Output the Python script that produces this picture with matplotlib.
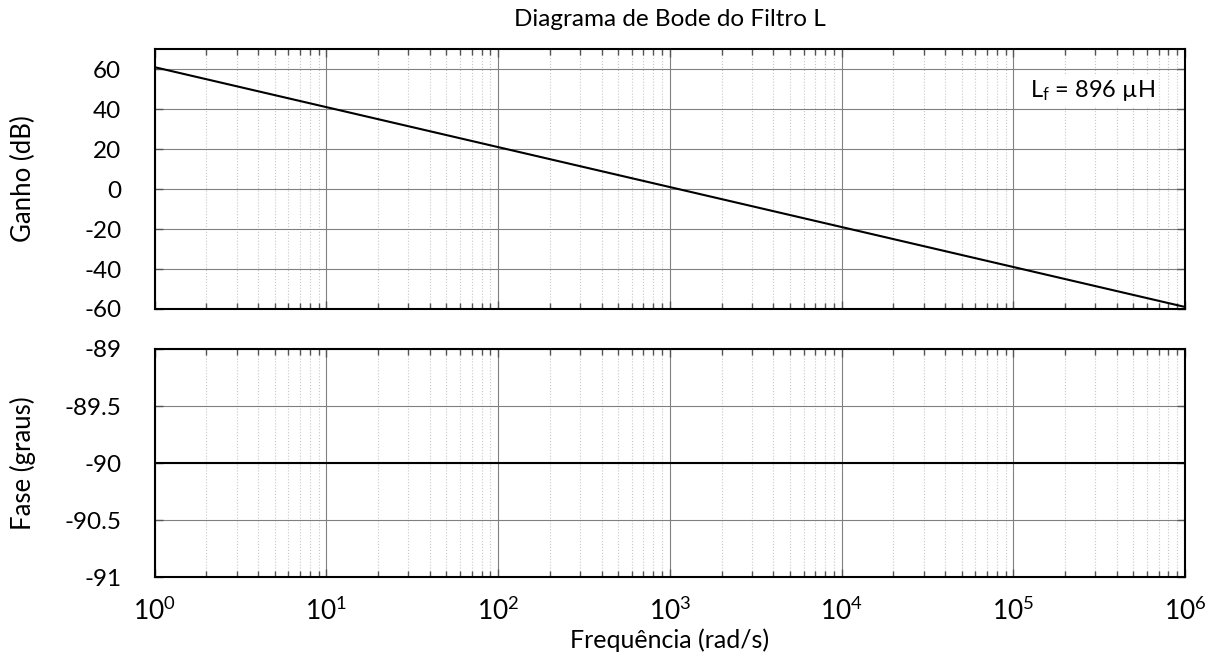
import numpy as np
import matplotlib
matplotlib.use("Agg")
import matplotlib.pyplot as plt
from matplotlib.ticker import LogLocator, NullFormatter

plt.rcParams['font.family'] = ['Lato', 'DejaVu Sans']
plt.rcParams['mathtext.fontset'] = 'custom'
plt.rcParams['mathtext.rm'] = 'Lato'
plt.rcParams['mathtext.it'] = 'Lato:italic'
plt.rcParams['mathtext.bf'] = 'Lato:bold'
plt.rcParams['axes.unicode_minus'] = False

# frequency response of the L filter (rad/s, dB, degrees)
freq = [1e0, 1e6]
ganho = [61.0, -59.0]
fase = [-90.0, -90.0]

ganho_ticks = [60, 40, 20, 0, -20, -40, -60]
fase_ticks = [-89, -89.5, -90, -90.5, -91]
fase_labels = ['-89', '-89.5', '-90', '-90.5', '-91']

fig = plt.figure(figsize=(12.18, 6.56), dpi=100)
ax1 = fig.add_axes([0.127, 0.529, 0.846, 0.396])
ax2 = fig.add_axes([0.127, 0.120, 0.846, 0.348])


def style(ax):
    ax.set_xscale('log')
    ax.set_xlim(1e0, 1e6)
    ax.xaxis.set_major_locator(LogLocator(base=10, numticks=10))
    ax.xaxis.set_minor_locator(LogLocator(base=10, subs=np.arange(2, 10), numticks=100))
    ax.xaxis.set_minor_formatter(NullFormatter())
    ax.grid(True, which='major', color='#808080', linewidth=0.8)
    ax.grid(True, which='minor', color='#c8c8c8', linestyle=':', linewidth=0.8)
    ax.tick_params(which='both', direction='in', top=True, right=True,
                   color='#555555', labelsize=17.5)
    ax.tick_params(axis='y', pad=24)
    ax.tick_params(which='major', length=6, width=1)
    ax.tick_params(which='minor', length=4, width=1)
    for s in ax.spines.values():
        s.set_linewidth(1.5)
        s.set_color('black')
    ax.yaxis.set_label_coords(-0.115, 0.5)


style(ax1)
ax1.plot(freq, ganho, color='black', linewidth=1.5)
ax1.set_ylim(-60, 70)
ax1.set_yticks(ganho_ticks)
ax1.tick_params(axis='x', labelbottom=False)
ax1.set_ylabel('Ganho (dB)', fontsize=18.5)
ax1.set_title('Diagrama de Bode do Filtro L', fontsize=17.5, pad=17)
ax1.text(0.971, 0.842, r'L$_\mathrm{f}$ = 896 µH', transform=ax1.transAxes,
         ha='right', va='center', fontsize=17,
         bbox=dict(facecolor='white', edgecolor='none', pad=2))

style(ax2)
ax2.plot(freq, fase, color='black', linewidth=1.5)
ax2.set_ylim(-91, -89)
ax2.set_yticks(fase_ticks)
ax2.set_yticklabels(fase_labels)
ax2.tick_params(axis='x', labelsize=19, pad=14)
ax2.set_ylabel('Fase (graus)', fontsize=18.5)
ax2.set_xlabel('Frequência (rad/s)', fontsize=18, labelpad=3)

fig.savefig('out.png', dpi=100)
